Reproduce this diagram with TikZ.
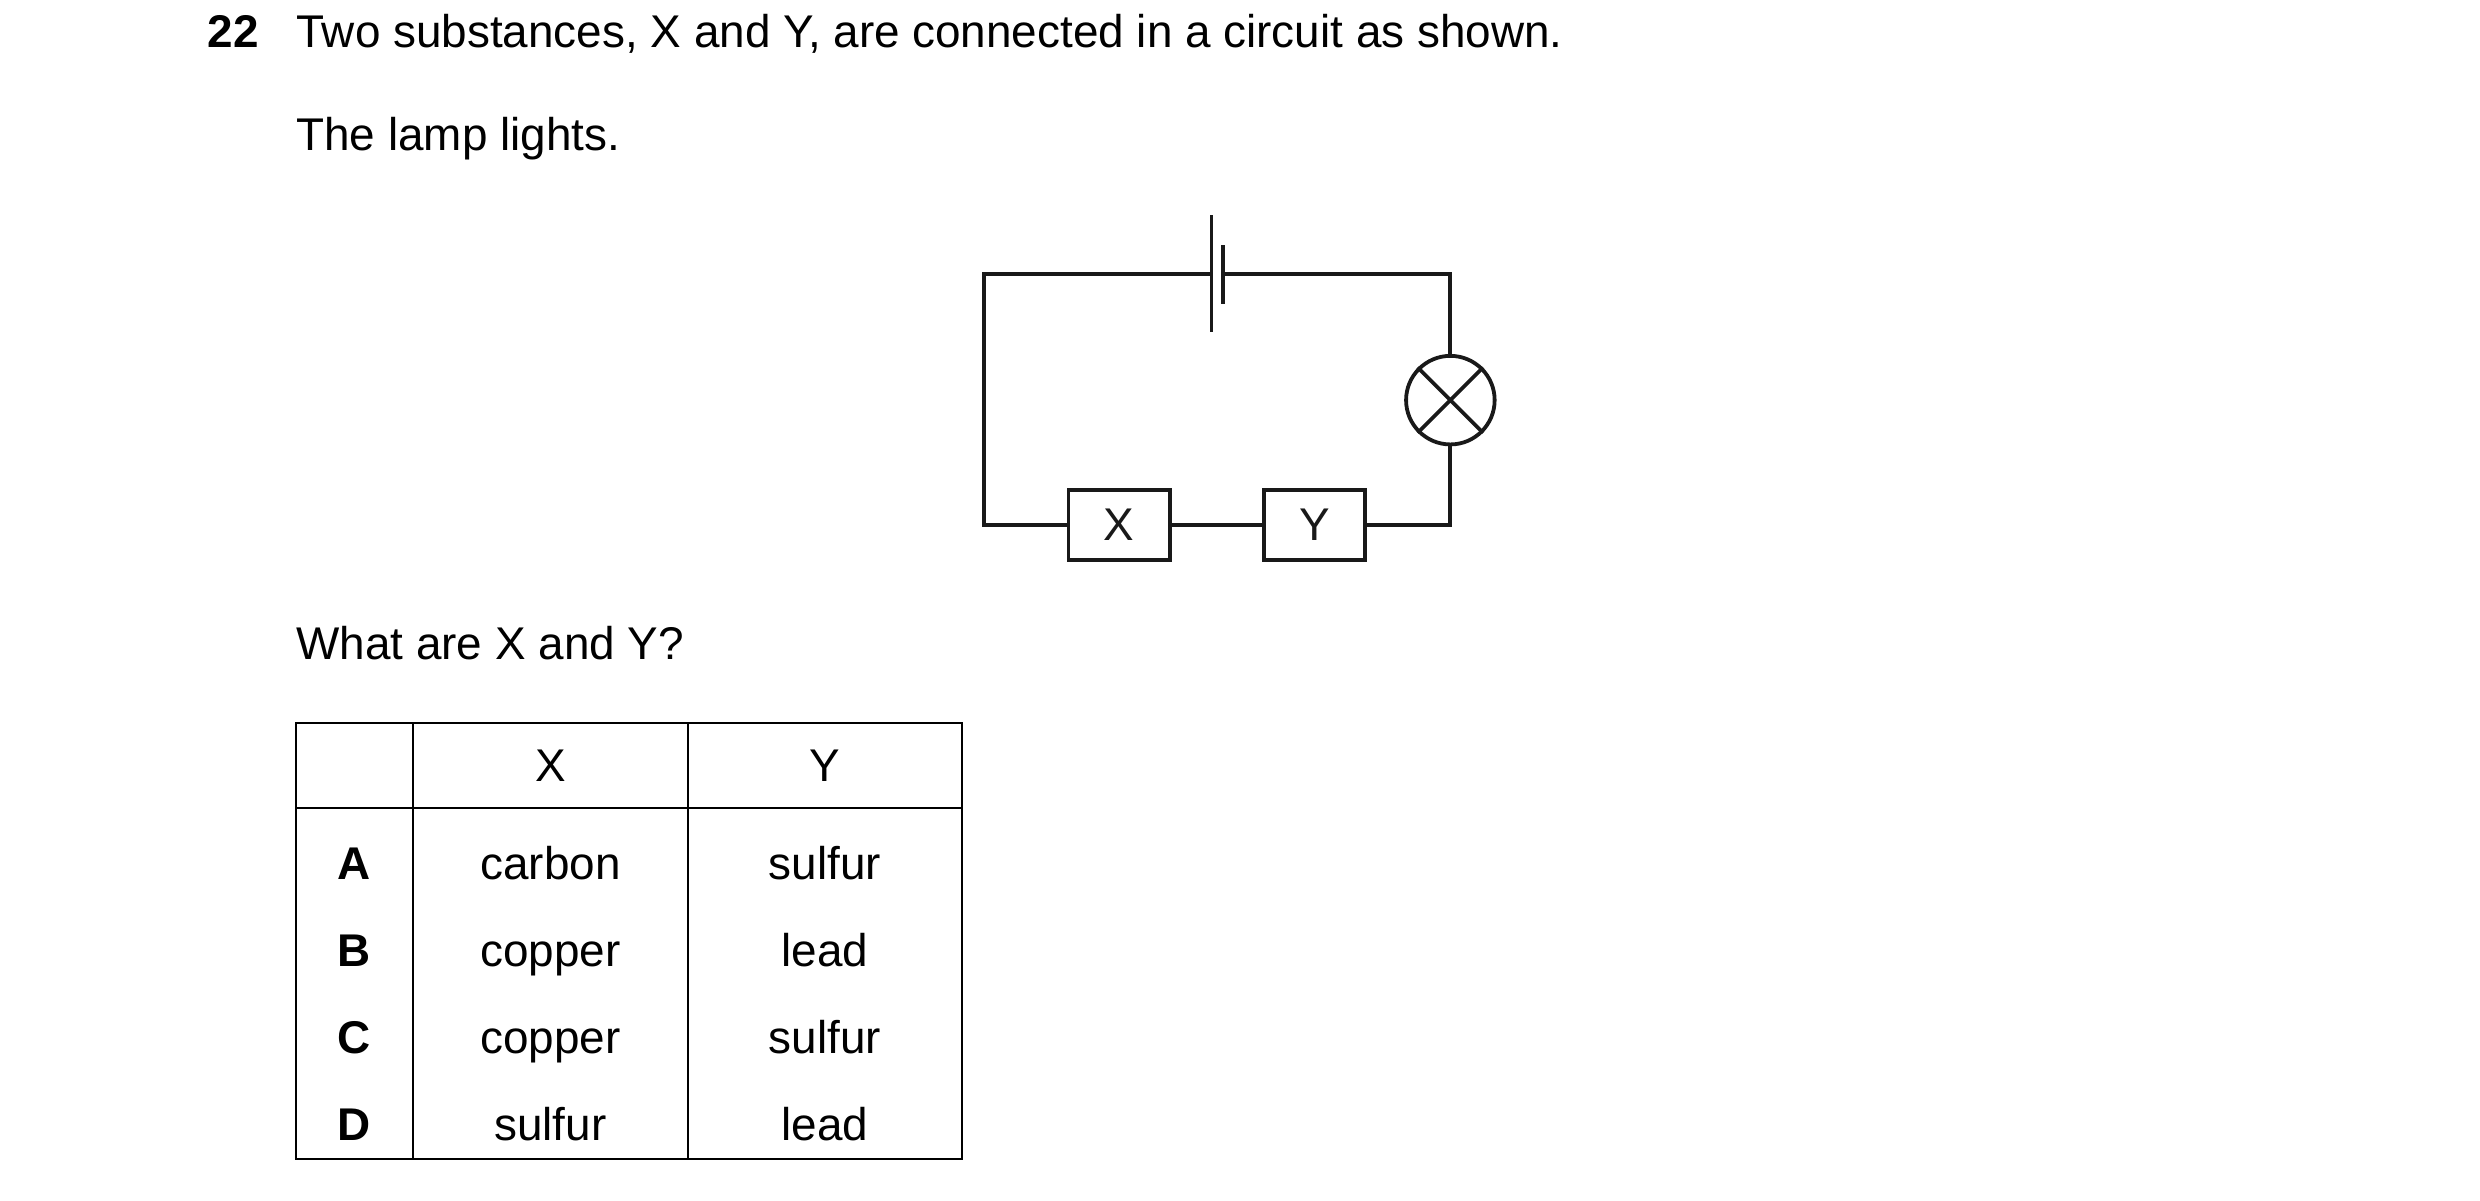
\documentclass[tikz,border=0pt]{standalone}
\usepackage{fontspec}
\setmainfont{Liberation Sans}
\begin{document}
\begin{tikzpicture}[x=0.5pt,y=-0.5pt,
  txt/.style={font=\fontsize{14.5}{16}\selectfont,inner sep=0},
  wire/.style={line width=1.2pt,black!90},
  comp/.style={draw,line width=1.2pt,black!90,minimum width=32pt,minimum height=22pt,inner sep=0,font=\fontsize{14.5}{16}\selectfont},
  grid/.style={line width=0.7pt},
  cell/.style={txt,anchor=base}]
\useasboundingbox (0,0) rectangle (1568,759.3);
\node[txt,anchor=base west,font=\fontsize{14.5}{16}\selectfont\bfseries] (num) at (131,30) {22};
\node[txt,anchor=base west] (t1) at (187,30) {Two substances, X and Y, are connected in a circuit as shown.};
\node[txt,anchor=base west] (t2) at (187,95) {The lamp lights.};
\node[txt,anchor=base west] (t3) at (187,417) {What are X and Y?};
% circuit
\node[comp] (X) at (707.5,332) {X};
\node[comp] (Y) at (831,332) {Y};
\node[draw,circle,line width=1.2pt,black!90,minimum size=28pt,inner sep=0] (L) at (917,253) {};
\draw[wire] (L.north west)--(L.south east) (L.north east)--(L.south west);
\coordinate (bl) at (766,173); \coordinate (bs) at (773,173);
\draw[wire] (766,136)--(766,210);
\draw[wire] (773,155)--(773,192);
\draw[wire] (bl)--(622,173)--(622,332)--(X.west);
\draw[wire] (X.east)--(Y.west);
\draw[wire] (Y.east)--(917,332)--(L.south);
\draw[wire] (L.north)--(917,173)--(bs);
% table
\draw[grid] (187,457) rectangle (608,733);
\draw[grid] (187,511)--(608,511) (261,457)--(261,733) (435,457)--(435,733);
\foreach \y/\l/\a/\b in {556/A/carbon/sulfur,611/B/copper/lead,666/C/copper/sulfur,721/D/sulfur/lead}{
  \node[cell,font=\fontsize{14.5}{16}\selectfont\bfseries] (r\l) at (224,\y) {\l};
  \node[cell] (x\l) at (348,\y) {\a};
  \node[cell] (y\l) at (521.5,\y) {\b};
}
\node[cell] (hx) at (348,494) {X};
\node[cell] (hy) at (521.5,494) {Y};
\end{tikzpicture}
\end{document}
